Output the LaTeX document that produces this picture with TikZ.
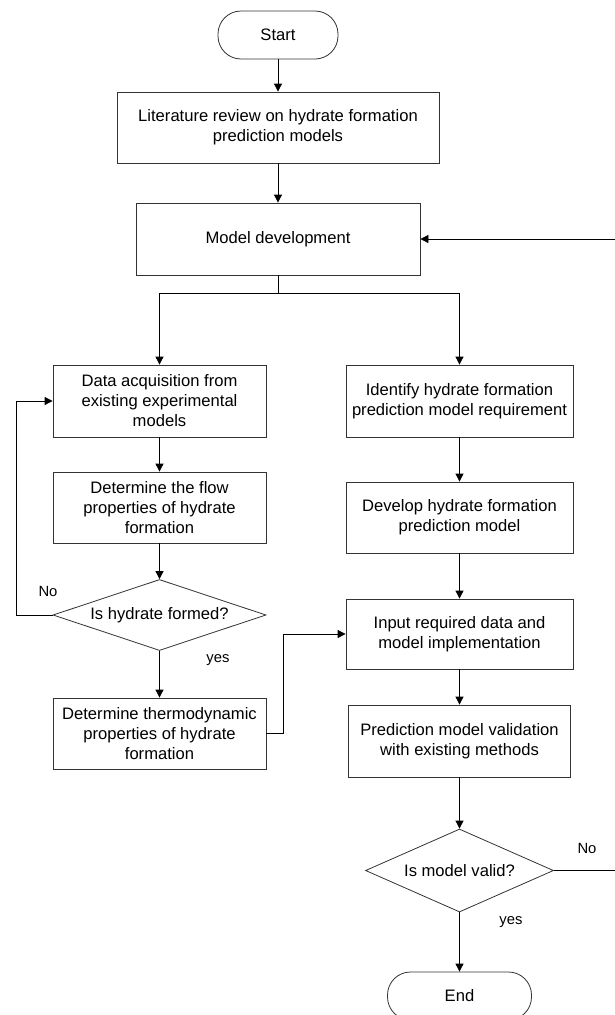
\documentclass[tikz,border=0pt]{standalone}
\usepackage{fontspec}
\setmainfont{Liberation Sans}
\usetikzlibrary{shapes.geometric,arrows.meta}
\begin{document}
\begin{tikzpicture}[x=1pt,y=-1pt,
  every node/.style={inner sep=0pt, font=\fontsize{16.6}{20}\selectfont, align=center},
  procbox/.style={draw=black!80, line width=0.8pt, rectangle},
  termbox/.style={draw=black!80, line width=0.8pt, rectangle, rounded corners=23pt, minimum width=#1, minimum height=48pt},
  decbox/.style={draw=black!80, line width=0.8pt, diamond},
  arr/.style={draw=black, line width=0.8pt, -{Triangle[length=8pt,width=8pt]}},
  ln/.style={draw=black, line width=0.8pt},
  lbl/.style={font=\fontsize{14.8}{18}\selectfont}
]
\useasboundingbox (0,0) rectangle (615,1015);

\node[termbox=120pt] (start) at (278,35) {Start};
\node[procbox, minimum width=322pt, minimum height=71pt] (lit) at (278,127.5) {Literature review on hydrate formation\\prediction models};
\node[procbox, minimum width=284pt, minimum height=72pt] (model) at (278,239) {Model development};

\node[procbox, minimum width=213pt, minimum height=72pt] (data) at (159.5,401) {Data acquisition from\\existing experimental\\models};
\node[procbox, minimum width=213pt, minimum height=71pt] (flow) at (159.5,507.5) {Determine the flow\\properties of hydrate\\formation};
\node[decbox, aspect=3, minimum width=213pt, minimum height=71pt] (hyd) at (159.5,615) {Is hydrate formed?};
\node[procbox, minimum width=213pt, minimum height=71pt] (thermo) at (159.5,733.5) {Determine thermodynamic\\properties of hydrate\\formation};

\node[procbox, minimum width=227pt, minimum height=72pt] (ident) at (459.5,401) {Identify hydrate formation\\prediction model requirement};
\node[procbox, minimum width=227pt, minimum height=71pt] (dev) at (459.5,517.5) {Develop hydrate formation\\prediction model};
\node[procbox, minimum width=227pt, minimum height=70pt] (input) at (459.5,634) {Input required data and\\model implementation};
\node[procbox, minimum width=222pt, minimum height=72pt] (pred) at (459.5,741) {Prediction model validation\\with existing methods};
\node[decbox, aspect=2.27, minimum width=188pt, minimum height=83pt] (valid) at (459.5,870.5) {Is model valid?};
\node[termbox=144pt] (end) at (459.5,996) {End};

\node[lbl] (no1) at (48,591) {No};
\node[lbl] (yes1) at (218,660) {yes};
\node[lbl] (no2) at (587,848) {No};
\node[lbl] (yes2) at (511,922) {yes};

\coordinate (split) at (278,293);
\coordinate (loopL) at (16,615);
\coordinate (jog) at (283,733.5);
\coordinate (loopR) at (617,870.5);

\draw[arr] (start) -- (lit);
\draw[arr] (lit) -- (model);
\draw[ln] (model.south) -- (split);
\draw[arr] (split) -| (data.north);
\draw[arr] (split) -| (ident.north);
\draw[arr] (data) -- (flow);
\draw[arr] (flow) -- (hyd);
\draw[arr] (hyd) -- (thermo);
\draw[arr] (hyd.west) -- (loopL) |- (data.west);
\draw[arr] (thermo.east) -- (jog) |- (input.west);
\draw[arr] (ident) -- (dev);
\draw[arr] (dev) -- (input);
\draw[arr] (input) -- (pred);
\draw[arr] (pred) -- (valid);
\draw[arr] (valid) -- (end);
\draw[arr] (valid.east) -- (loopR) |- (model.east);
\end{tikzpicture}
\end{document}
